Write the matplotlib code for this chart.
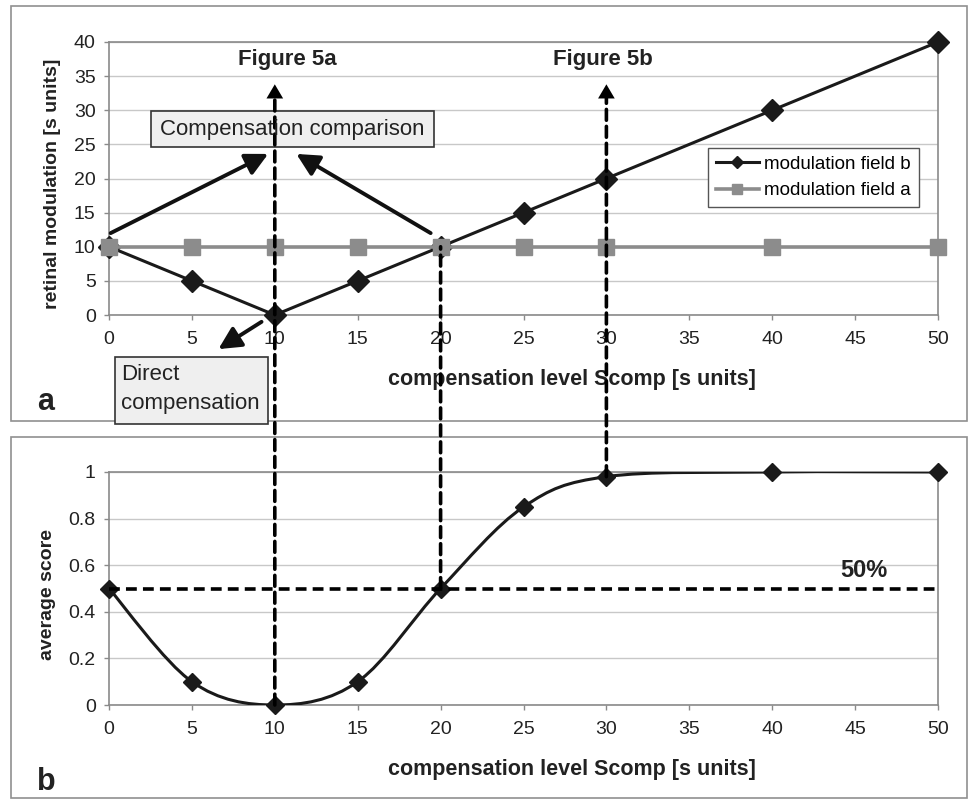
import matplotlib.pyplot as plt
from matplotlib.path import Path
from matplotlib.patches import PathPatch, Rectangle, ConnectionPatch

plt.rcParams['font.family'] = ['Liberation Sans', 'DejaVu Sans']

# data
comp_level = [0, 5, 10, 15, 20, 25, 30, 40, 50]
field_b = [10, 5, 0, 5, 10, 15, 20, 30, 40]
field_a = [10, 10, 10, 10, 10, 10, 10, 10, 10]
avg_score = [0.5, 0.1, 0.0, 0.1, 0.5, 0.85, 0.98, 1.0, 1.0]
x_ticks = [0, 5, 10, 15, 20, 25, 30, 35, 40, 45, 50]
top_yticks = [0, 5, 10, 15, 20, 25, 30, 35, 40]
bot_yticks = [0, 0.2, 0.4, 0.6, 0.8, 1.0]
bot_ylabels = ['0', '0.2', '0.4', '0.6', '0.8', '1']

W, H = 976, 808
fig = plt.figure(figsize=(W / 100, H / 100), dpi=100)


def fx(px):
    return px / W


def fy(py):
    return 1 - py / H


ax1 = fig.add_axes([fx(109), fy(315), fx(938) - fx(109), fy(42) - fy(315)])
ax2 = fig.add_axes([fx(109), fy(705), fx(938) - fx(109), fy(472) - fy(705)])

grey = '#8a8a8a'
txt = '#222222'
for ax in (ax1, ax2):
    ax.set_xlim(0, 50)
    ax.set_xticks(x_ticks)
    ax.grid(axis='y', color='#c8c8c8', lw=1)
    ax.set_axisbelow(True)
    for s in ax.spines.values():
        s.set_color(grey)
        s.set_linewidth(1.2)
    ax.tick_params(direction='out', length=3.6, width=1, color=grey,
                   labelsize=14, labelcolor=txt)
    ax.tick_params(axis='x', pad=8)
    ax.tick_params(axis='y', pad=6)

# top panel
ax1.set_ylim(0, 40)
ax1.set_yticks(top_yticks)
ax1.plot(comp_level, field_b, color='#1a1a1a', lw=2.2, marker='D', ms=11,
         label='modulation field b', clip_on=False, zorder=3)
ax1.plot(comp_level, field_a, color='#8c8c8c', lw=2.6, marker='s', ms=12,
         label='modulation field a', clip_on=False, zorder=4)
ax1.legend(loc='upper left', bbox_to_anchor=(fx(708), fy(148)),
           bbox_transform=fig.transFigure, borderaxespad=0, fontsize=13.5,
           fancybox=False, edgecolor='#555555', framealpha=1,
           markerscale=0.6, handlelength=2.3, handletextpad=0.3,
           borderpad=0.4, labelspacing=0.5)

# bottom panel, smoothed line like the spreadsheet's smooth curve
ax2.set_ylim(0, 1)
ax2.set_yticks(bot_yticks)
ax2.set_yticklabels(bot_ylabels)
pts = list(zip(comp_level, avg_score))
verts = [pts[0]]
codes = [Path.MOVETO]
n = len(pts)
for i in range(n - 1):
    p0 = pts[max(i - 1, 0)]
    p1 = pts[i]
    p2 = pts[i + 1]
    p3 = pts[min(i + 2, n - 1)]
    c1 = (p1[0] + (p2[0] - p0[0]) / 6, p1[1] + (p2[1] - p0[1]) / 6)
    c2 = (p2[0] - (p3[0] - p1[0]) / 6, p2[1] - (p3[1] - p1[1]) / 6)
    verts += [c1, c2, p2]
    codes += [Path.CURVE4] * 3
ax2.add_patch(PathPatch(Path(verts, codes), fill=False, ec='#1a1a1a',
                        lw=2.2, zorder=3))
ax2.plot(comp_level, avg_score, ls='none', color='#1a1a1a', marker='D',
         ms=9.5, clip_on=False, zorder=4)
dash = (0, (3, 1.7))
ax2.axhline(0.5, color='black', lw=2.6, ls=dash, zorder=6)
ax2.text(45.5, 0.53, '50%', fontsize=17, fontweight='bold', ha='center',
         va='bottom', color=txt)

# panel frames
for top, bottom in ((6, 421), (437, 798)):
    fig.add_artist(Rectangle((fx(11), fy(bottom)), fx(967) - fx(11),
                             fy(top) - fy(bottom), transform=fig.transFigure,
                             fill=False, ec='#909090', lw=1.2, zorder=-1))

# axis titles
fig.text(fx(572), fy(380), 'compensation level Scomp [s units]', fontsize=15.5,
         fontweight='bold', ha='center', va='center', color=txt)
fig.text(fx(572), fy(770), 'compensation level Scomp [s units]', fontsize=15.5,
         fontweight='bold', ha='center', va='center', color=txt)
fig.text(fx(53), fy(184), 'retinal modulation [s units]', fontsize=14,
         fontweight='bold', ha='center', va='center', rotation=90, color=txt)
fig.text(fx(48), fy(595), 'average score', fontsize=14, fontweight='bold',
         ha='center', va='center', rotation=90, color=txt)
fig.text(fx(46), fy(402), 'a', fontsize=22, fontweight='bold', ha='center',
         va='center', color=txt)
fig.text(fx(46), fy(782), 'b', fontsize=22, fontweight='bold', ha='center',
         va='center', color=txt)
fig.text(fx(287), fy(60), 'Figure 5a', fontsize=16, fontweight='bold',
         ha='center', va='center', color=txt)
fig.text(fx(603), fy(60), 'Figure 5b', fontsize=16, fontweight='bold',
         ha='center', va='center', color=txt)

# dashed guide lines linking both panels
guides = [(10, 0.0, 32.0, True), (20, 0.5, 10, False), (30, 0.98, 32.0, True)]
for gx, yb, yt, head in guides:
    fig.add_artist(ConnectionPatch(xyA=(gx, yb), coordsA=ax2.transData,
                                   xyB=(gx, yt), coordsB=ax1.transData,
                                   color='black', lw=2.6, linestyle=dash,
                                   zorder=8))
    if head:
        ax1.annotate('', xy=(gx, 33.8), xytext=(gx, 30.5),
                     arrowprops=dict(arrowstyle='-|>,head_length=0.85,head_width=0.5',
                                     mutation_scale=12, lw=0, fc='black',
                                     shrinkA=0, shrinkB=0, clip_on=False),
                     annotation_clip=False, zorder=9)

# solid pointer arrows
arrow_style = dict(arrowstyle='-|>,head_length=0.75,head_width=0.38',
                   mutation_scale=18, lw=2.8, color='#111111',
                   shrinkA=0, shrinkB=0, clip_on=False)
for start, tip in (((0.1, 12.0), (9.6, 23.6)), ((19.4, 12.0), (11.3, 23.6)),
                   ((9.2, -1.0), (6.6, -5.0))):
    ax1.annotate('', xy=tip, xytext=start, arrowprops=arrow_style,
                 annotation_clip=False, zorder=9)

# callout boxes
fig.add_artist(Rectangle((fx(151), fy(147)), fx(434) - fx(151),
                         fy(111) - fy(147), transform=fig.transFigure,
                         fc='#efefef', ec='#333333', lw=1.2, zorder=7))
fig.text(fx(292), fy(129), 'Compensation comparison', fontsize=16,
         ha='center', va='center', color=txt, zorder=8)
fig.add_artist(Rectangle((fx(115), fy(424)), fx(268) - fx(115),
                         fy(357) - fy(424), transform=fig.transFigure,
                         fc='#efefef', ec='#333333', lw=1.2, zorder=7))
fig.text(fx(121), fy(389), 'Direct\ncompensation', fontsize=16,
         ha='left', va='center', linespacing=1.45, color=txt, zorder=8)

fig.savefig('out.png', dpi=100)
